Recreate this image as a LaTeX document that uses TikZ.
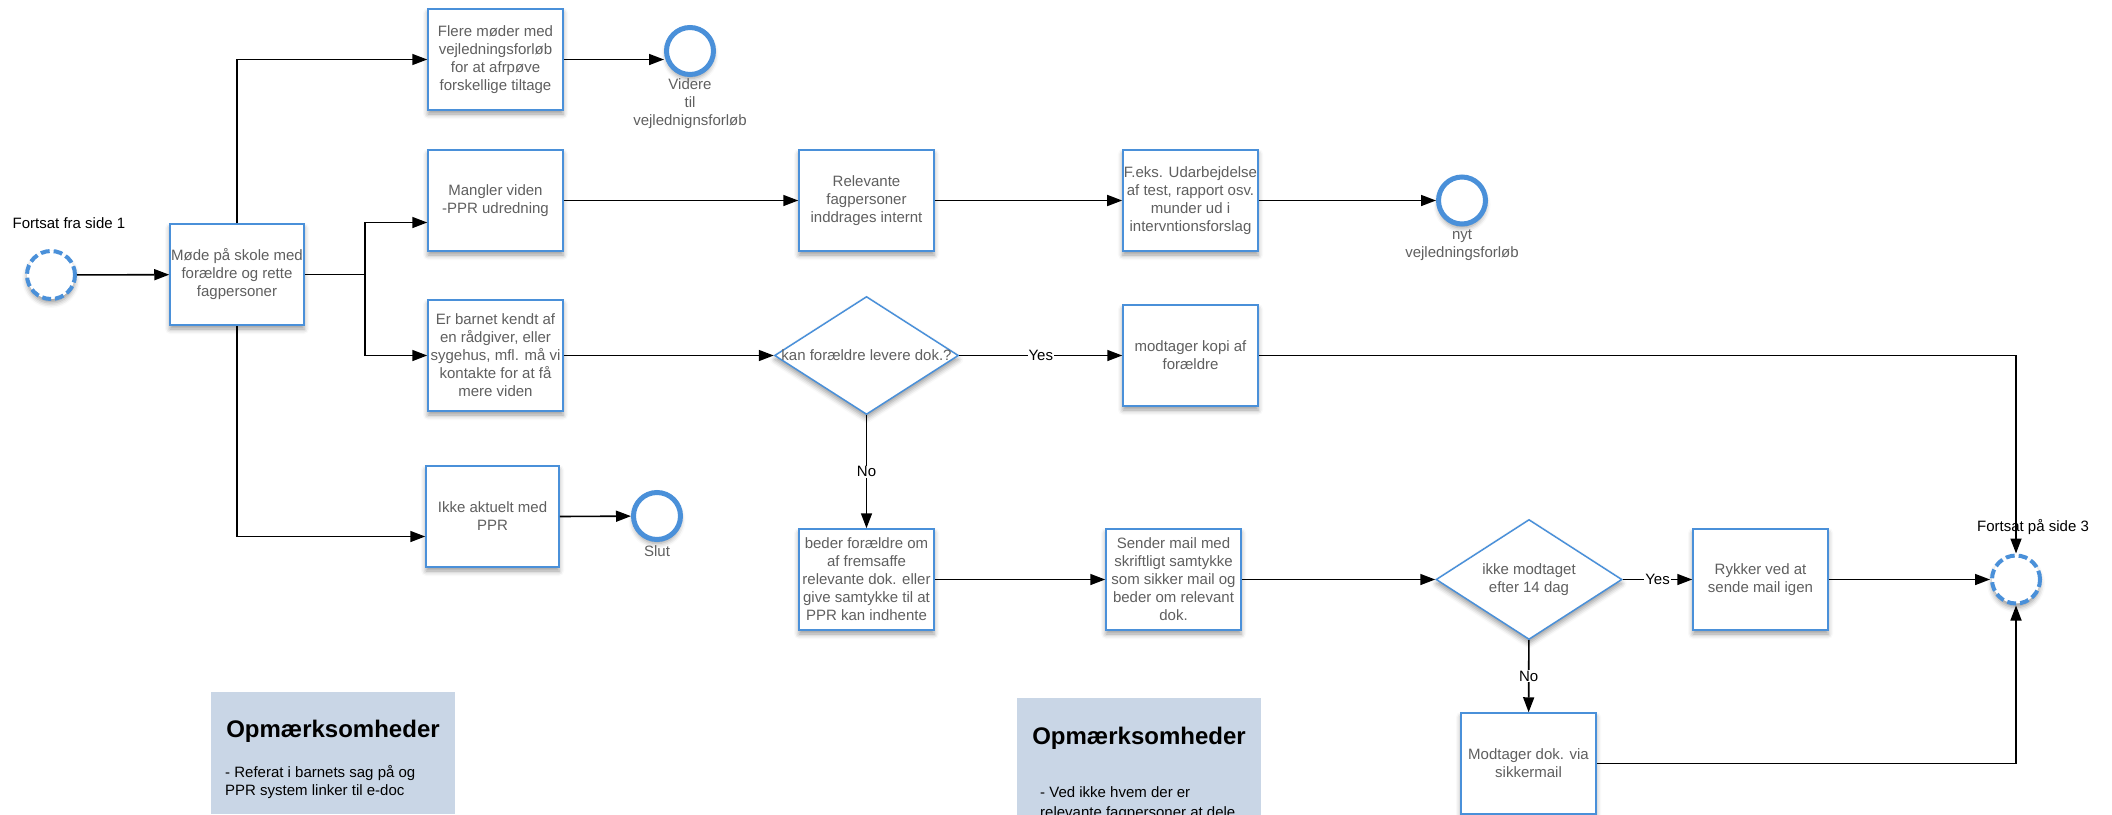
\documentclass[tikz,border=0pt]{standalone}
\usepackage{fontspec}
\setmainfont{Liberation Sans}
\usetikzlibrary{arrows.meta,shapes.geometric,shadows.blur}
\definecolor{bpblue}{RGB}{74,144,217}
\definecolor{txtgray}{RGB}{95,95,95}
\definecolor{notefill}{RGB}{201,214,230}
\begin{document}
\begin{tikzpicture}[x=1pt,y=-1pt,
  shad/.style={blur shadow={shadow xshift=0pt,shadow yshift=-4pt,shadow blur radius=5pt,shadow opacity=40}},
  proc/.style={draw=bpblue,line width=1.5pt,fill=white,minimum width=135pt,minimum height=101pt,
    align=center,inner sep=1pt,font=\fontsize{15}{18}\selectfont,text=txtgray,shad},
  dec/.style={diamond,draw=bpblue,line width=1.5pt,fill=white,inner sep=0pt,shad},
  endev/.style={circle,draw=bpblue,line width=5pt,fill=white,minimum size=47pt,inner sep=0pt,shad},
  link/.style={circle,draw=bpblue,line width=4pt,dash pattern=on 9pt off 4pt,fill=white,minimum size=48pt,inner sep=0pt,shad},
  lbl/.style={align=center,inner sep=0pt,font=\fontsize{15}{18}\selectfont,text=txtgray},
  blk/.style={inner sep=0pt,font=\fontsize{15}{18}\selectfont,text=black},
  conn/.style={draw=black,line width=1.6pt,-{Triangle[length=15pt,width=11pt]}},
  yn/.style={fill=white,inner sep=1pt,font=\fontsize{15}{18}\selectfont,text=black},
  note/.style={fill=notefill,draw=none,inner sep=0pt},
  notetitle/.style={inner sep=0pt,font=\fontsize{24}{28}\bfseries\selectfont,text=black},
  notebody/.style={inner sep=0pt,align=left,font=\fontsize{15}{18}\selectfont,text=black}
]
\useasboundingbox (0,0) rectangle (2112,814);

% notes
\node[note,minimum width=244pt,minimum height=122pt] (note1) at (333,753) {};
\node[notetitle] (note1t) at (333,731) {Opmærksomheder};
\node[notebody,anchor=west] (note1b) at (225,782) {- Referat i barnets sag på og\\PPR system linker til e-doc};
\node[note,minimum width=244pt,minimum height=140pt] (note2) at (1139,768) {};
\node[notetitle] (note2t) at (1139,738) {Opmærksomheder};
\node[notebody,anchor=north west,font=\fontsize{15}{20}\selectfont] (note2b) at (1040,786) {- Ved ikke hvem der er\\relevante fagpersoner at dele};

% nodes
\node[link] (start) at (51,275) {};
\node[blk] (startL) at (69,223) {Fortsat fra side 1};
\node[proc,minimum width=134pt] (mode) at (237,274.5) {Møde på skole med\\forældre og rette\\fagpersoner};
\node[proc] (flere) at (495.5,59.5) {Flere møder med\\vejledningsforløb\\for at afrpøve\\forskellige tiltage};
\node[endev] (videre) at (690,51) {};
\node[lbl] (videreL) at (690,104) {Videre\\til\\vejlednignsforløb};
\node[proc] (mangler) at (495.5,200.5) {Mangler viden\\-PPR udredning};
\node[proc,minimum height=111pt] (erbarnet) at (495.5,355.5) {Er barnet kendt af\\en rådgiver, eller\\sygehus, mfl. må vi\\kontakte for at få\\mere viden};
\node[proc,minimum width=133pt] (ikke) at (492.5,516.5) {Ikke aktuelt med\\PPR};
\node[endev] (slut) at (657,516) {};
\node[lbl] (slutL) at (657,551) {Slut};
\node[proc] (relevante) at (866.5,200.5) {Relevante\\fagpersoner\\inddrages internt};
\node[proc] (feks) at (1190.5,200.5) {F.eks. Udarbejdelse\\af test, rapport osv.\\munder ud i\\intervntionsforslag};
\node[endev] (nyt) at (1462,200.5) {};
\node[lbl] (nytL) at (1462,245) {nyt\\vejledningsforløb};
\node[dec,minimum width=184pt,minimum height=118pt,
  label={[lbl]center:kan forældre levere dok.?}] (d1) at (866.5,355.5) {};
\node[proc] (kopi) at (1190.5,355.5) {modtager kopi af\\forældre};
\node[proc] (beder) at (866.5,579.5) {beder forældre om\\af fremsaffe\\relevante dok. eller\\give samtykke til at\\PPR kan indhente};
\node[proc] (sender) at (1173.5,579.5) {Sender mail med\\skriftligt samtykke\\som sikker mail og\\beder om relevant\\dok.};
\node[dec,minimum width=186pt,minimum height=120pt,
  label={[lbl]center:ikke modtaget\\efter 14 dag}] (d2) at (1529,579.5) {};
\node[proc] (rykker) at (1760.5,579.5) {Rykker ved at\\sende mail igen};
\node[link] (slut3) at (2016,579.5) {};
\node[blk] (slut3L) at (2033,527) {Fortsat på side 3};
\node[proc] (modtdok) at (1528.5,763.5) {Modtager dok. via\\sikkermail};

% connectors
\coordinate (j1) at (365,274.5);
\draw[conn] (start) -- (mode);
\draw[conn] (mode.north) |- (flere.west);
\draw[conn] (mode.east) -- (j1) |- ([yshift=-22pt]mangler.west);
\draw[conn] (j1) |- (erbarnet.west);
\draw[conn] (mode.south) |- ([yshift=-20pt]ikke.west);
\draw[conn] (flere.east) -- (flere.east -| videre.west);
\draw[conn] (ikke.east) -- (slut);
\draw[conn] (mangler) -- (relevante);
\draw[conn] (relevante) -- (feks);
\draw[conn] (feks) -- (nyt);
\draw[conn] (erbarnet) -- (d1);
\draw[conn] (d1) -- node[yn]{Yes} (kopi);
\draw[conn] (d1) -- node[yn]{No} (beder);
\draw[conn] (kopi.east) -| (slut3.north);
\draw[conn] (beder) -- (sender);
\draw[conn] (sender) -- (d2);
\draw[conn] (d2) -- node[yn]{Yes} (rykker);
\draw[conn] (rykker) -- (slut3);
\draw[conn] (d2) -- node[yn]{No} (modtdok);
\draw[conn] (modtdok.east) -| (slut3.south);
\end{tikzpicture}
\end{document}
